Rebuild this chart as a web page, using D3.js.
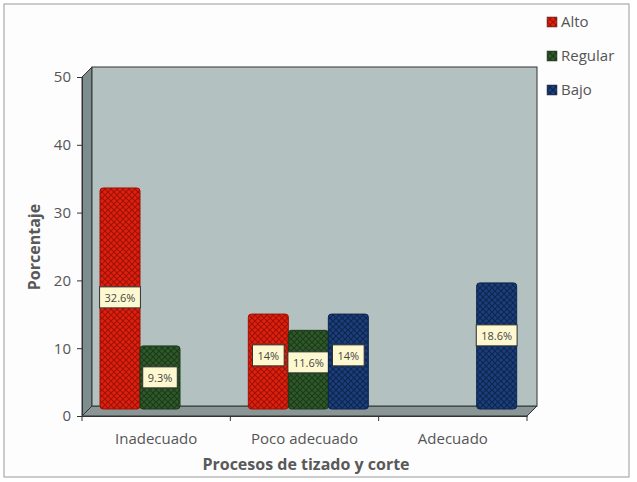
<!DOCTYPE html>
<html><head><meta charset="utf-8">
<script src="https://cdn.jsdelivr.net/npm/d3@7"></script>
<style>body{margin:0;background:#fff}text{font-family:"Open Sans","DejaVu Sans",sans-serif}</style>
</head><body>
<svg id="c" width="637" height="482"></svg>
<script>
var categories=['Inadecuado','Poco adecuado','Adecuado'];
var series=['Alto','Regular','Bajo'];
var alto=[32.6,14,null];
var regular=[9.3,11.6,null];
var bajo=[null,14,18.6];
var yTicks=[0,10,20,30,40,50];
var colors={Alto:['#e0200e','#a01005'],Regular:['#2e5a2a','#1c3a1a'],Bajo:['#1a3f7a','#0e2550']};

var svg=d3.select('#c');
var dx=10,dy=10;
var x=d3.scaleBand().domain(categories).range([82,527]);
var y=d3.scaleLinear().domain([0,50]).range([416,77]);
var xs=d3.scaleBand().domain(series).range([0,120]);

svg.append('rect').attr('x',4).attr('y',4).attr('width',625).attr('height',473).attr('fill','#fdfdfd').attr('stroke','#9a9a9a');

var defs=svg.append('defs');
series.forEach(function(s){
  var p=defs.append('pattern').attr('id','p'+s).attr('width',6).attr('height',6).attr('patternUnits','userSpaceOnUse');
  p.append('rect').attr('width',6).attr('height',6).attr('fill',colors[s][0]);
  p.append('path').attr('d','M0,0L6,6M6,0L0,6').attr('stroke',colors[s][1]).attr('stroke-width',1.2);
});

// walls
svg.append('path').attr('d','M82,416L'+(82+dx)+','+(416-dy)+'L'+(82+dx)+','+(77-dy)+'L82,77Z').attr('fill','#7d8c8c').attr('stroke','#333');
svg.append('path').attr('d','M82,416L'+(82+dx)+','+(416-dy)+'L'+(537)+','+(416-dy)+'L527,416Z').attr('fill','#8a9696').attr('stroke','#333');
svg.append('rect').attr('x',82+dx).attr('y',77-dy).attr('width',537-82-dx).attr('height',416-77).attr('fill','#b3c1c0').attr('stroke','#333');

// axes
svg.append('g').attr('transform','translate(82,0)').call(d3.axisLeft(y).tickValues(yTicks).tickSize(5).tickPadding(6))
  .call(function(g){g.selectAll('text').attr('font-size',15).attr('fill','#555');g.selectAll('line,path').attr('stroke','#333');});
svg.append('g').attr('transform','translate(0,416)').call(d3.axisBottom(x).tickSize(0).tickPadding(17))
  .call(function(g){g.selectAll('text').attr('font-size',15).attr('fill','#555');g.select('path').attr('stroke','#333');});
svg.append('g').selectAll('line').data(d3.range(4)).enter().append('line')
  .attr('x1',function(i){return 82+i*x.bandwidth();}).attr('x2',function(i){return 82+i*x.bandwidth();})
  .attr('y1',416).attr('y2',421).attr('stroke','#333');

var data=[];
categories.forEach(function(c,i){
  [alto,regular,bajo].forEach(function(arr,j){ if(arr[i]!=null) data.push({c:c,s:series[j],v:arr[i]}); });
});
var bars=svg.append('g').selectAll('g').data(data).enter().append('g');
bars.append('rect')
  .attr('x',function(d){return x(d.c)+18+xs(d.s);})
  .attr('y',function(d){return y(d.v)-7;})
  .attr('width',xs.bandwidth()).attr('height',function(d){return y(0)-y(d.v);})
  .attr('rx',3).attr('fill',function(d){return 'url(#p'+d.s+')';}).attr('stroke',function(d){return colors[d.s][1];});
var lab=bars.append('g').attr('transform',function(d){
  var cx=x(d.c)+18+xs(d.s)+xs.bandwidth()/2, ly=d.s=='Regular'&&d.v<10?y(d.v/2)-5:(y(0)+y(d.v))/2-8;
  if(d.c=='Inadecuado'&&d.s=='Alto') ly=y(17.4);
  if(d.c=='Poco adecuado') ly=d.s=='Regular'?363:356;
  if(d.s=='Bajo'&&d.c=='Adecuado') ly=336;
  if(d.s=='Regular'&&d.c=='Inadecuado') ly=378;
  return 'translate('+cx+','+ly+')';});
lab.append('text').attr('text-anchor','middle').attr('dy','0.35em').attr('font-size',11).attr('fill','#444')
  .text(function(d){return d.v+'%';});
lab.each(function(){var g=d3.select(this),b=g.select('text').node().getBBox();
  g.insert('rect','text').attr('x',b.x-5).attr('y',b.y-3).attr('width',b.width+10).attr('height',b.height+6)
   .attr('fill','#fdf8d0').attr('stroke','#333');});

// legend
var lg=svg.append('g').selectAll('g').data(series).enter().append('g')
  .attr('transform',function(d,i){return 'translate(547,'+(22+i*34)+')';});
lg.append('rect').attr('x',0).attr('y',-5).attr('width',10).attr('height',10).attr('fill',function(d){return 'url(#p'+d+')';}).attr('stroke','#333').attr('stroke-width',0.5);
lg.append('text').attr('x',14).attr('dy','0.35em').attr('font-size',15).attr('fill','#555').text(function(d){return d;});

svg.append('text').attr('transform','translate(40,247) rotate(-90)').attr('text-anchor','middle')
  .attr('font-size',16).attr('font-weight','bold').attr('fill','#595959').text('Porcentaje');
svg.append('text').attr('x',306).attr('y',470).attr('text-anchor','middle')
  .attr('font-size',16).attr('font-weight','bold').attr('fill','#595959').text('Procesos de tizado y corte');
</script></body></html>
